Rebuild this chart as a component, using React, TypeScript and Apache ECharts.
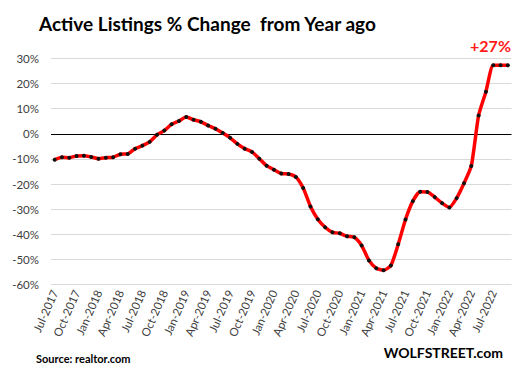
import React, { useEffect, useRef } from "react";
import * as echarts from "echarts";

const months: string[] = [
  "Jul-2017","Aug-2017","Sep-2017","Oct-2017","Nov-2017","Dec-2017",
  "Jan-2018","Feb-2018","Mar-2018","Apr-2018","May-2018","Jun-2018",
  "Jul-2018","Aug-2018","Sep-2018","Oct-2018","Nov-2018","Dec-2018",
  "Jan-2019","Feb-2019","Mar-2019","Apr-2019","May-2019","Jun-2019",
  "Jul-2019","Aug-2019","Sep-2019","Oct-2019","Nov-2019","Dec-2019",
  "Jan-2020","Feb-2020","Mar-2020","Apr-2020","May-2020","Jun-2020",
  "Jul-2020","Aug-2020","Sep-2020","Oct-2020","Nov-2020","Dec-2020",
  "Jan-2021","Feb-2021","Mar-2021","Apr-2021","May-2021","Jun-2021",
  "Jul-2021","Aug-2021","Sep-2021","Oct-2021","Nov-2021","Dec-2021",
  "Jan-2022","Feb-2022","Mar-2022","Apr-2022","May-2022","Jun-2022",
  "Jul-2022","Aug-2022","Sep-2022",
];

const pctChange: number[] = [
  -10.3, -9.3, -9.5, -8.8, -8.7, -9.2,
  -9.9, -9.5, -9.3, -8.1, -8.0, -5.9,
  -4.7, -3.2, -0.4, 1.3, 3.8, 5.1,
  6.7, 5.6, 4.8, 3.3, 2.0, 0.3,
  -1.6, -4.0, -5.9, -7.2, -9.9, -12.7,
  -14.3, -15.8, -16.0, -17.2, -21.6, -28.9,
  -34.0, -37.2, -39.2, -39.6, -40.8, -41.2,
  -44.5, -50.4, -53.5, -54.3, -52.4, -44.0,
  -34.1, -26.8, -23.1, -23.2, -25.2, -27.6,
  -29.3, -25.6, -19.7, -12.8, 7.3, 16.8,
  27.3, 27.3, 27.3,
];

const titleText = "Active Listings % Change  from Year ago";
const calloutText = "+27%";
const sourceText = "Source: realtor.com";
const brandText = "WOLFSTREET.com";

const FONT = "Lato, 'Open Sans', sans-serif";

export default function App() {
  const ref = useRef<HTMLDivElement>(null);

  useEffect(() => {
    if (!ref.current) return;
    const chart = echarts.init(ref.current, undefined, { renderer: "svg" });
    chart.setOption({
      animation: false,
      backgroundColor: "#ffffff",
      textStyle: { fontFamily: FONT },
      title: {
        text: titleText,
        left: 34,
        top: 9,
        textStyle: { fontFamily: FONT, fontSize: 19, fontWeight: "bold", color: "#000000" },
      },
      graphic: [
        {
          type: "text",
          right: 2,
          top: 37,
          style: { text: calloutText, fontFamily: FONT, fontSize: 16, fontWeight: "bold", fill: "#ff1a1a" },
        },
        {
          type: "text",
          left: 36,
          top: 353,
          style: { text: sourceText, fontFamily: FONT, fontSize: 11, fontWeight: "bold", fill: "#000000" },
        },
        {
          type: "text",
          right: 10,
          top: 345,
          style: { text: brandText, fontFamily: FONT, fontSize: 14, fontWeight: "bold", fill: "#000000" },
        },
      ],
      grid: { left: 51, right: 1.5, top: 58.5, height: 226, containLabel: false },
      xAxis: {
        type: "category",
        data: months,
        boundaryGap: true,
        axisLine: { show: false },
        axisTick: { show: false },
        splitLine: { show: false },
        axisLabel: {
          interval: 2,
          rotate: 66,
          fontSize: 11.5,
          color: "#404040",
          fontFamily: FONT,
          margin: 6,
        },
      },
      yAxis: {
        type: "value",
        min: -60,
        max: 30,
        interval: 10,
        axisLine: { show: false },
        axisTick: { show: false },
        axisLabel: {
          fontSize: 11.5,
          color: "#404040",
          fontFamily: FONT,
          margin: 12,
          formatter: (v: number) => `${v}%`,
        },
        splitLine: { show: true, lineStyle: { color: "#d9d9d9", width: 1 } },
      },
      series: [
        {
          type: "line",
          data: pctChange,
          smooth: 0.2,
          symbol: "circle",
          symbolSize: 4,
          showSymbol: true,
          lineStyle: { color: "#ff0000", width: 3.5 },
          itemStyle: { color: "#111111", borderWidth: 0 },
          z: 3,
          markLine: {
            silent: true,
            symbol: "none",
            label: { show: false },
            lineStyle: { color: "#000000", width: 1.2, type: "solid" },
            data: [{ yAxis: 0 }],
            z: 1,
          },
        },
      ],
    });
    return () => chart.dispose();
  }, []);

  return (
    <div
      ref={ref}
      style={{ position: "fixed", left: 0, top: 0, width: 513, height: 373, background: "#fff" }}
    />
  );
}
